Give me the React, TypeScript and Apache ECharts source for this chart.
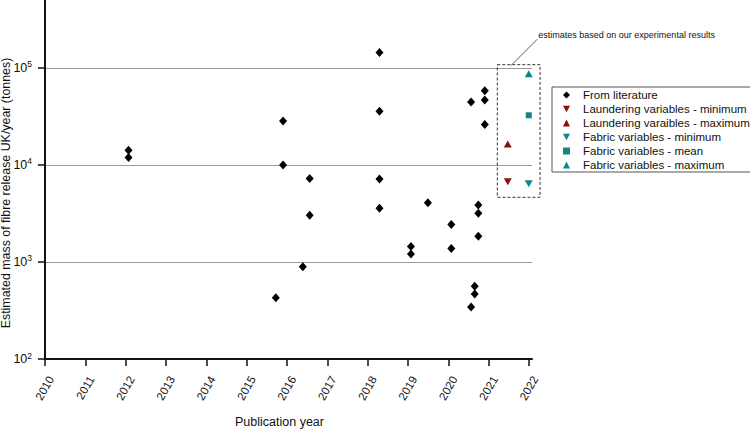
import React, { useEffect, useRef } from "react";
import * as echarts from "echarts";

const yearTicks = [2010, 2011, 2012, 2013, 2014, 2015, 2016, 2017, 2018, 2019, 2020, 2021, 2022];
const decadeTicks = [100, 1000, 10000, 100000];

const literature: [number, number][] = [
  [2012.07, 14200], [2012.07, 11900],
  [2015.72, 428],
  [2015.9, 28400], [2015.9, 10000],
  [2016.39, 895],
  [2016.56, 7230], [2016.56, 3030],
  [2018.29, 144000], [2018.29, 35800], [2018.29, 7180], [2018.29, 3570],
  [2019.07, 1440], [2019.07, 1210],
  [2019.49, 4080],
  [2020.07, 2430], [2020.07, 1380],
  [2020.56, 44600], [2020.56, 343],
  [2020.65, 561], [2020.65, 468],
  [2020.74, 3870], [2020.74, 3170], [2020.74, 1840],
  [2020.9, 58300], [2020.9, 46800], [2020.9, 26100],
];
const launderingMin: [number, number][] = [[2021.47, 6730]];
const launderingMax: [number, number][] = [[2021.47, 16400]];
const fabricMin: [number, number][] = [[2021.99, 6410]];
const fabricMean: [number, number][] = [[2021.99, 32500]];
const fabricMax: [number, number][] = [[2021.99, 87300]];

const seriesNames = [
  "From literature",
  "Laundering variables - minimum",
  "Laundering varaibles - maximum",
  "Fabric variables - minimum",
  "Fabric variables - mean",
  "Fabric variables - maximum",
];

const annotationText = "estimates based on our experimental results";
const boxCorners: [number, number][] = [[2021.21, 108000], [2022.27, 4640]];

const RED = "#8a1010";
const TEAL = "#118686";
const FONT = "Liberation Sans";
const DOWN = "path://M0,0L10,0L5,9Z";

export default function App() {
  const ref = useRef<HTMLDivElement>(null);
  useEffect(() => {
    document.body.style.margin = "0";
    const chart = echarts.init(ref.current!, null, { renderer: "svg" });
    const option: any = {
      animation: false,
      textStyle: { fontFamily: FONT },
      grid: { left: 45, right: 218, top: 0, bottom: 70, containLabel: false, outerBoundsMode: "none" },
      xAxis: {
        type: "value",
        min: 2010,
        max: 2022.07,
        interval: 1,
        name: "Publication year",
        nameLocation: "middle",
        nameGap: 56,
        nameTextStyle: { fontSize: 12.5, color: "#111", fontFamily: FONT, padding: [0, 18, 0, 0] },
        axisLine: { lineStyle: { color: "#111", width: 2 } },
        axisTick: { show: true, length: 7, lineStyle: { color: "#111", width: 1.5 }, customValues: yearTicks },
        axisLabel: {
          rotate: 60,
          margin: 14.5,
          fontSize: 11.5,
          lineHeight: 14,
          verticalAlign: "top",
          color: "#111",
          fontFamily: FONT,
          customValues: yearTicks,
          formatter: (v: number) => (Math.abs(v - Math.round(v)) < 1e-6 ? String(Math.round(v)) : ""),
        },
        splitLine: { show: false },
      },
      yAxis: {
        type: "log",
        logBase: 10,
        min: 100,
        max: 501187,
        axisLine: { show: true, lineStyle: { color: "#111", width: 2 } },
        axisTick: { show: true, length: 7, lineStyle: { color: "#111", width: 1.5 }, customValues: decadeTicks },
        axisLabel: {
          margin: 13,
          color: "#111",
          fontFamily: FONT,
          customValues: decadeTicks,
          formatter: (v: number) => {
            const e = Math.log10(v);
            if (Math.abs(e - Math.round(e)) > 1e-6) return "";
            return "{b|10}{s|" + Math.round(e) + "}";
          },
          rich: {
            b: { fontSize: 12.5, color: "#111", fontFamily: FONT },
            s: { fontSize: 8.5, color: "#111", fontFamily: FONT, padding: [0, 0, 7, 0] },
          },
        },
        splitLine: { show: true, showMinLine: false, showMaxLine: true, lineStyle: { color: "#9a9a9a", width: 1 } },
      },
      legend: {
        orient: "vertical",
        left: 552,
        top: 87,
        padding: [1, 3, 0, 11],
        itemGap: 0,
        itemWidth: 7,
        itemHeight: 7,
        borderColor: "#555",
        borderWidth: 1,
        borderRadius: 0,
        textStyle: { fontSize: 11.5, lineHeight: 14, color: "#111", fontFamily: FONT, padding: [0, 0, 0, 8] },
        data: seriesNames,
      },
      series: [
        { name: seriesNames[0], type: "scatter", data: literature, symbol: "diamond", symbolSize: [8, 9], itemStyle: { color: "#000", opacity: 1 } },
        { name: seriesNames[1], type: "scatter", data: launderingMin, symbol: DOWN, symbolSize: [8, 7], itemStyle: { color: RED, opacity: 1 } },
        { name: seriesNames[2], type: "scatter", data: launderingMax, symbol: "triangle", symbolSize: [8, 7], itemStyle: { color: RED, opacity: 1 } },
        { name: seriesNames[3], type: "scatter", data: fabricMin, symbol: DOWN, symbolSize: [8, 7], itemStyle: { color: TEAL, opacity: 1 } },
        { name: seriesNames[4], type: "scatter", data: fabricMean, symbol: "rect", symbolSize: 6, itemStyle: { color: TEAL, opacity: 1 } },
        { name: seriesNames[5], type: "scatter", data: fabricMax, symbol: "triangle", symbolSize: [8, 7], itemStyle: { color: TEAL, opacity: 1 } },
      ],
    };
    chart.setOption(option);

    const p0 = chart.convertToPixel({ gridIndex: 0 }, boxCorners[0]) as number[];
    const p1 = chart.convertToPixel({ gridIndex: 0 }, boxCorners[1]) as number[];
    const lineStart = [p0[0] + 13.5, p0[1] + 1];
    const lineEnd = [lineStart[0] + 26.5, lineStart[1] - 26.5];
    chart.setOption({
      graphic: [
        {
          type: "rect",
          shape: { x: p0[0], y: p0[1], width: p1[0] - p0[0], height: p1[1] - p0[1] },
          style: { fill: "none", stroke: "#333", lineWidth: 1, lineDash: [3, 2] },
        },
        {
          type: "line",
          shape: { x1: lineStart[0], y1: lineStart[1], x2: lineEnd[0], y2: lineEnd[1] },
          style: { stroke: "#333", lineWidth: 0.8 },
        },
        {
          type: "text",
          x: lineEnd[0] + 1,
          y: lineEnd[1] - 4,
          style: { text: annotationText, fontSize: 9, fill: "#111", fontFamily: FONT, textAlign: "left", textVerticalAlign: "middle" },
        },
        {
          type: "text",
          x: 6,
          y: 193,
          rotation: Math.PI / 2,
          style: {
            text: "Estimated mass of fibre release UK/year (tonnes)",
            fontSize: 12.4,
            fill: "#111",
            fontFamily: FONT,
            textAlign: "center",
            textVerticalAlign: "middle",
          },
        },
      ],
    });
    return () => chart.dispose();
  }, []);
  return <div ref={ref} style={{ width: 750, height: 429 }} />;
}
